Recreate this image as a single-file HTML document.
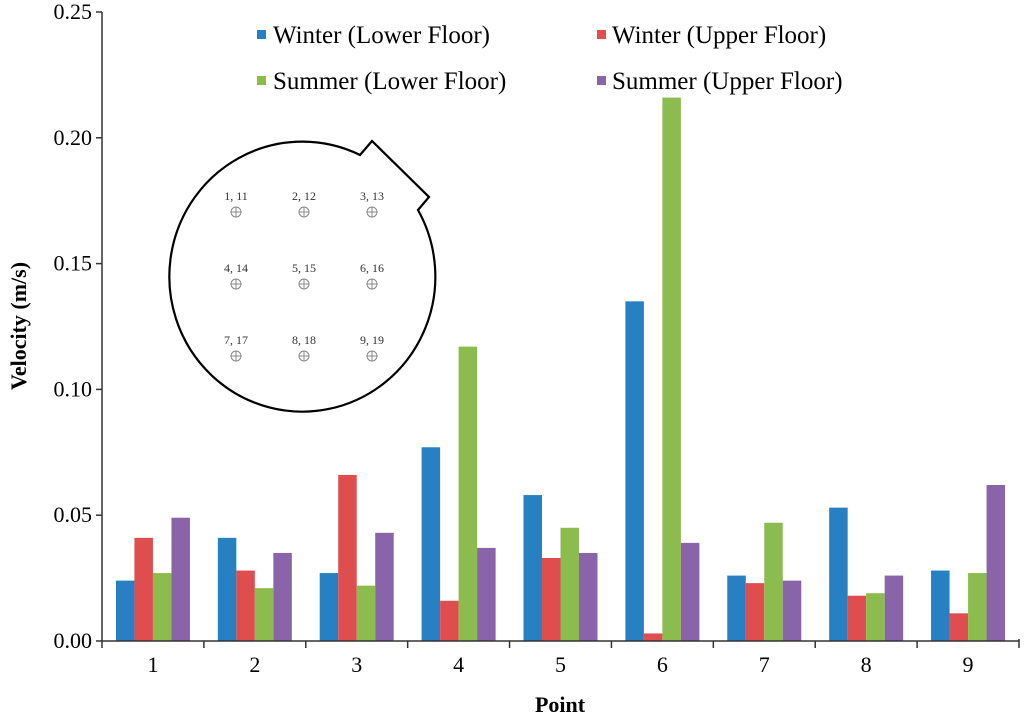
<!DOCTYPE html>
<html><head><meta charset="utf-8"><style>
body{margin:0;background:#fff}
svg{display:block;font-family:"Liberation Serif",serif}
</style></head><body>
<svg id="chart" width="1024" height="719" viewBox="0 0 1024 719">
<g id="bars"></g>
<g id="axes"></g>
<g>
<path d="M360,155 L372,141 L429,197 L418,210 A133,135 0 1 1 360,155 Z" fill="none" stroke="#000" stroke-width="2.2"/>
<g id="pts" font-size="12" fill="#333"></g>
</g>
<g font-size="25">
<rect x="257" y="30" width="9" height="9" fill="#2680c2"/>
<text x="273" y="43">Winter (Lower Floor)</text>
<rect x="597" y="30" width="9" height="9" fill="#de4e4e"/>
<text x="612" y="43">Winter (Upper Floor)</text>
<rect x="257" y="76" width="9" height="9" fill="#8cbc4e"/>
<text x="273" y="89">Summer (Lower Floor)</text>
<rect x="597" y="76" width="9" height="9" fill="#8a64a8"/>
<text x="612" y="89">Summer (Upper Floor)</text>
</g>
<text x="26" y="326" font-size="22" font-weight="bold" text-anchor="middle" transform="rotate(-90 26 326)">Velocity (m/s)</text>
<text x="560" y="712" font-size="22" font-weight="bold" text-anchor="middle">Point</text>
</svg>
<script>
const categories = ["1","2","3","4","5","6","7","8","9"];
const winterLower = [0.024,0.041,0.027,0.077,0.058,0.135,0.026,0.053,0.028];
const winterUpper = [0.041,0.028,0.066,0.016,0.033,0.003,0.023,0.018,0.011];
const summerLower = [0.027,0.021,0.022,0.117,0.045,0.216,0.047,0.019,0.027];
const summerUpper = [0.049,0.035,0.043,0.037,0.035,0.039,0.024,0.026,0.062];
const yTicks = ["0.00","0.05","0.10","0.15","0.20","0.25"];
const pointLabels = ["1, 11","2, 12","3, 13","4, 14","5, 15","6, 16","7, 17","8, 18","9, 19"];

const NS="http://www.w3.org/2000/svg";
const L=102,R=1019,T=12,B=641,YMAX=0.25;
const gw=(R-L)/categories.length;
const y=v=>B-(v/YMAX)*(B-T);
const xc=i=>L+gw*(i+0.5);
const series=[["winter-lower",winterLower,"#2680c2"],["winter-upper",winterUpper,"#de4e4e"],["summer-lower",summerLower,"#8cbc4e"],["summer-upper",summerUpper,"#8a64a8"]];
const bw=18.5;
const bars=document.getElementById('bars');
series.forEach((s,si)=>{
  s[1].forEach((v,i)=>{
    const r=document.createElementNS(NS,'rect');
    r.setAttribute('x',xc(i)-2*bw+si*bw);
    r.setAttribute('y',y(v));
    r.setAttribute('width',bw);
    r.setAttribute('height',B-y(v));
    r.setAttribute('fill',s[2]);
    
    
    bars.appendChild(r);
  });
});
const ax=document.getElementById('axes');
function ln(x1,y1,x2,y2,name){const l=document.createElementNS(NS,'line');l.setAttribute('x1',x1);l.setAttribute('y1',y1);l.setAttribute('x2',x2);l.setAttribute('y2',y2);l.setAttribute('stroke','#333');l.setAttribute('stroke-width','1.5');


ax.appendChild(l);}
function tx(x,yy,s,anchor,name){const t=document.createElementNS(NS,'text');t.setAttribute('x',x);t.setAttribute('y',yy);t.setAttribute('font-size','22');t.setAttribute('text-anchor',anchor);t.textContent=s;


ax.appendChild(t);}
ln(L,T,L,B,'y-axis');
ln(L,B,R,B,'x-axis');
ln(R,B-2,R,B+7,'x-axis-end');
yTicks.forEach((s,i)=>{const yy=y(i*0.05);ln(L-6,yy,L,yy,'y-tick');tx(L-10,yy+7,s,'end','y-tick-label');});
categories.forEach((c,i)=>{ln(L+gw*i,B,L+gw*i,B+7,'x-tick');tx(xc(i),B+31,c,'middle','x-tick-label');});
const pts=document.getElementById('pts');
pointLabels.forEach((p,i)=>{
  const cx=236+(i%3)*68, cy=212+Math.floor(i/3)*72;
  const t=document.createElementNS(NS,'text');t.setAttribute('x',cx);t.setAttribute('y',cy-12);t.setAttribute('text-anchor','middle');t.textContent=p;
  
  
  pts.appendChild(t);
  const c=document.createElementNS(NS,'circle');c.setAttribute('cx',cx);c.setAttribute('cy',cy);c.setAttribute('r',5);c.setAttribute('fill','none');c.setAttribute('stroke','#888');
  
  
  pts.appendChild(c);
  const h=document.createElementNS(NS,'path');h.setAttribute('d',`M${cx-5},${cy}H${cx+5}M${cx},${cy-5}V${cy+5}`);h.setAttribute('stroke','#888');
  
  
  pts.appendChild(h);
});
</script>
</body></html>
